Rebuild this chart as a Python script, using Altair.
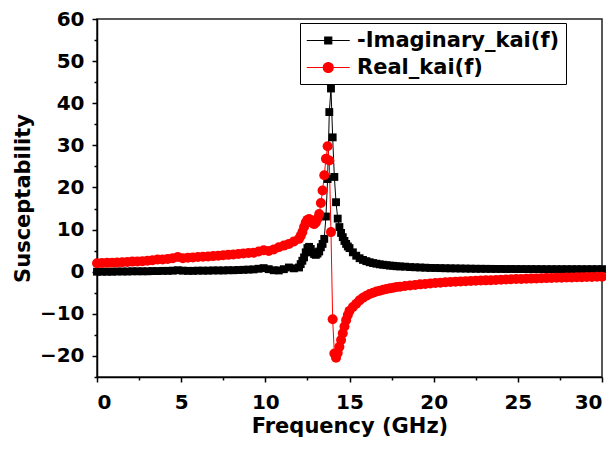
import altair as alt
import pandas as pd

# Frequency grid (GHz)
freq = [0.0, 0.3, 0.6, 0.9, 1.2, 1.5, 1.8, 2.1, 2.4, 2.7, 3.0, 3.3, 3.6, 3.9, 4.2, 4.5, 4.8, 5.1, 5.4, 5.7,
        6.0, 6.3, 6.6, 6.9, 7.2, 7.5, 7.8, 8.1, 8.4, 8.7, 9.0, 9.3, 9.6, 9.9, 10.2, 10.5, 10.8, 11.1, 11.4, 11.7,
        12.0, 12.1, 12.2, 12.3, 12.4, 12.5, 12.6, 12.7, 12.8, 12.9, 13.0, 13.1, 13.2, 13.3, 13.4, 13.5, 13.6, 13.7,
        13.8, 13.9, 14.0, 14.1, 14.2, 14.3, 14.4, 14.5, 14.6, 14.7, 14.8, 14.9,
        15.0, 15.2, 15.4, 15.6, 15.8, 16.0, 16.2, 16.4, 16.6, 16.8, 17.0, 17.2, 17.4, 17.6, 17.8,
        18.0, 18.3, 18.6, 18.9, 19.2, 19.5, 19.8, 20.1, 20.4, 20.7, 21.0, 21.3, 21.6, 21.9, 22.2, 22.5, 22.8,
        23.1, 23.4, 23.7, 24.0, 24.3, 24.6, 24.9, 25.2, 25.5, 25.8, 26.1, 26.4, 26.7, 27.0, 27.3, 27.6, 27.9,
        28.2, 28.5, 28.8, 29.1, 29.4, 29.7, 30.0]

neg_imag = [0.0, 0.0, 0.0, 0.0, 0.05, 0.05, 0.05, 0.1, 0.1, 0.1, 0.1, 0.15, 0.15, 0.2, 0.2, 0.25, 0.35, 0.25, 0.2, 0.2,
            0.25, 0.25, 0.25, 0.3, 0.3, 0.3, 0.35, 0.35, 0.4, 0.45, 0.5, 0.55, 0.7, 0.85, 0.6, 0.35, 0.3, 0.6, 1.0, 0.8,
            1.0, 1.8, 2.6, 3.4, 4.6, 5.6, 5.9, 5.4, 4.6, 4.2, 4.0, 4.3, 4.8, 5.8, 6.6, 7.8, 13.1, 22.0,
            37.9, 43.5, 31.9, 22.5, 16.5, 12.6, 10.6, 9.2, 8.2, 7.3, 6.6, 6.0,
            5.6, 4.6, 3.8, 3.2, 2.8, 2.5, 2.25, 2.05, 1.9, 1.75, 1.65, 1.55, 1.45, 1.4, 1.3,
            1.25, 1.2, 1.1, 1.05, 1.0, 0.95, 0.9, 0.88, 0.85, 0.82, 0.8, 0.78, 0.76, 0.74, 0.72, 0.7, 0.69,
            0.68, 0.67, 0.66, 0.65, 0.64, 0.64, 0.63, 0.63, 0.62, 0.62, 0.61, 0.61, 0.6, 0.6, 0.6, 0.6, 0.6,
            0.6, 0.6, 0.6, 0.6, 0.6, 0.6, 0.6]

real = [2.0, 2.05, 2.1, 2.15, 2.2, 2.25, 2.3, 2.4, 2.45, 2.5, 2.6, 2.7, 2.9, 2.9, 3.0, 3.2, 3.5, 3.2, 3.3, 3.4,
        3.5, 3.55, 3.6, 3.7, 3.8, 3.9, 4.0, 4.1, 4.2, 4.35, 4.45, 4.5, 4.8, 5.1, 4.9, 5.3, 5.8, 6.2, 6.6, 7.2,
        7.8, 8.5, 9.4, 10.6, 11.7, 12.3, 12.5, 12.2, 11.6, 11.3, 11.7, 12.6, 13.7, 16.3, 19.3, 22.9, 26.8, 29.8,
        26.4, 9.4, -11.3, -19.4, -20.4, -19.3, -17.8, -16.2, -14.6, -13.0, -11.5, -10.3,
        -9.3, -8.4, -7.6, -6.8, -6.2, -5.7, -5.3, -5.0, -4.7, -4.5, -4.3, -4.1, -3.95, -3.8, -3.65,
        -3.55, -3.4, -3.25, -3.15, -3.0, -2.9, -2.8, -2.7, -2.6, -2.5, -2.45, -2.4, -2.3, -2.25, -2.2, -2.15, -2.1,
        -2.05, -2.0, -1.95, -1.9, -1.85, -1.8, -1.75, -1.72, -1.68, -1.64, -1.6, -1.56, -1.52, -1.48, -1.45, -1.42, -1.38,
        -1.35, -1.32, -1.29, -1.26, -1.23, -1.2, -1.18]

series_names = ["-Imaginary_kai(f)", "Real_kai(f)"]
series_colors = ["#000000", "#ff0000"]

x_ticks = [0, 2.5, 5, 7.5, 10, 12.5, 15, 17.5, 20, 22.5, 25, 27.5, 30]
y_ticks = [-25, -20, -15, -10, -5, 0, 5, 10, 15, 20, 25, 30, 35, 40, 45, 50, 55, 60]

FONT = "DejaVu Sans"

imag_df = pd.DataFrame({"f": freq, "v": neg_imag})
real_df = pd.DataFrame({"f": freq, "v": real})
legend_df = pd.DataFrame({"series": series_names})

x_enc = alt.X("f:Q", scale=alt.Scale(domain=[0, 30], nice=False),
              axis=alt.Axis(values=x_ticks, title="Frequency (GHz)",
                            labelExpr="datum.value % 5 === 0 ? datum.label : ''",
                            tickSize={"condition": {"test": "datum.value % 5 === 0", "value": 5}, "value": 3},
                            labelPadding=10, titlePadding=3))
y_enc = alt.Y("v:Q", scale=alt.Scale(domain=[-25, 60], nice=False),
              axis=alt.Axis(values=y_ticks, title="Susceptability",
                            labelExpr="datum.value % 10 === 0 ? datum.label : ''",
                            tickSize={"condition": {"test": "datum.value % 10 === 0", "value": 5}, "value": 3},
                            labelPadding=8, titlePadding=6))

black_line = alt.Chart(imag_df).mark_line(color="black", strokeWidth=1).encode(x=x_enc, y=y_enc)
black_pts = alt.Chart(imag_df).mark_point(shape="square", filled=True, color="black", size=62,
                                          opacity=1).encode(x=x_enc, y=y_enc)
red_line = alt.Chart(real_df).mark_line(color="#ff0000", strokeWidth=1).encode(x=x_enc, y=y_enc)
red_pts = alt.Chart(real_df).mark_point(shape="circle", filled=True, color="#ff0000", size=100,
                                        opacity=1).encode(x=x_enc, y=y_enc)

sq_path = "M-1,0H3M0.674,-0.326H1.326V0.326H0.674Z"
ci_path = "M-1,0H3M1.465,0A0.465,0.465,0,1,1,0.535,0A0.465,0.465,0,1,1,1.465,0Z"

leg = alt.Legend(orient="none", legendX=203, legendY=4, title=None,
                 strokeColor="black", fillColor="white", padding=6,
                 labelFont=FONT, labelFontSize=21, labelFontWeight="bold", labelColor="black",
                 labelLimit=400, symbolSize=462, symbolStrokeWidth=1.2, symbolOpacity=1,
                 labelOffset=28, rowPadding=5)

legend_layer = alt.Chart(legend_df).mark_point(filled=True, opacity=0).encode(
    fill=alt.Fill("series:N", scale=alt.Scale(domain=series_names, range=series_colors), legend=leg),
    stroke=alt.Stroke("series:N", scale=alt.Scale(domain=series_names, range=series_colors), legend=leg),
    shape=alt.Shape("series:N", scale=alt.Scale(domain=series_names, range=[sq_path, ci_path]), legend=leg),
)

chart = alt.layer(black_line, red_line, black_pts, red_pts, legend_layer).properties(
    width=505, height=358,
    padding={"left": 89, "top": 11, "right": 4, "bottom": 70},
    autosize=alt.AutoSizeParams(type="none"),
).configure_view(stroke="#222222", strokeWidth=1.5).configure_axis(
    grid=False, domainColor="black", domainWidth=1.5, tickColor="black", tickWidth=1.5,
    labelFont=FONT, labelFontSize=20, labelFontWeight="bold", labelColor="black",
    titleFont=FONT, titleFontSize=21, titleFontWeight="bold", titleColor="black",
)

chart.save("out.html", embed_options={"renderer": "svg", "actions": False})
